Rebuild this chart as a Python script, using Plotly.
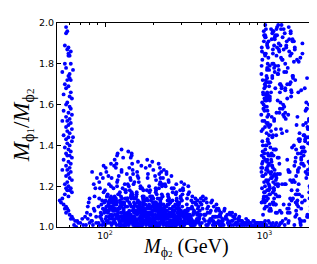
import math
import plotly.graph_objects as go

# ---- left narrow strip (M_phi2 ~ 55-75 GeV) ----
strip_x = [57,58,57,56,59,58,61,59,60,59,
           56,61,57,63,54,60,59,60,58,61,
           56,59,57,61,55,60,62,58,57,60,
           61,55,59,62,57,60,58,54,61,59,
           57,62,58,60,55,59,63,57,62,58,
           60,56,59,61,57,60,58,62,55,59,
           61,57,60,58,54,61,59,57,60,62,
           58,56,59,61,57,60,58,62,56,59,
           54,52,53,55,57,56,58,59,57,60,
           62,61,63,65,67,68,70,72,75,64,
           66,73]
strip_y = [1.98,1.96,1.95,1.89,1.88,1.87,1.86,1.85,1.84,1.84,
           1.80,1.80,1.78,1.77,1.76,1.75,1.74,1.73,1.72,1.72,
           1.70,1.69,1.68,1.66,1.65,1.64,1.63,1.61,1.60,1.59,
           1.58,1.57,1.56,1.55,1.54,1.53,1.52,1.52,1.51,1.50,
           1.49,1.48,1.47,1.46,1.45,1.44,1.44,1.43,1.42,1.41,
           1.40,1.39,1.38,1.37,1.36,1.35,1.35,1.34,1.33,1.32,
           1.31,1.30,1.29,1.28,1.28,1.27,1.26,1.25,1.24,1.23,
           1.22,1.21,1.20,1.19,1.19,1.18,1.18,1.17,1.16,1.15,
           1.14,1.13,1.12,1.11,1.10,1.09,1.09,1.08,1.07,1.06,
           1.05,1.04,1.04,1.03,1.03,1.02,1.02,1.04,1.05,1.01,
           1.00,1.01]

# ---- central blob, by mass band ----
blobA_x = [76,78,80,77,82,85,79,88,83,86, 81,84,87,78,89,80,83,86,88,85]
blobA_y = [1.01,1.04,1.02,1.07,1.03,1.09,1.12,1.05,1.27,1.15,
           1.06,1.01,1.19,1.10,1.24,1.14,1.03,1.08,1.02,1.21]

blobB_x = [91,93,96,99,102,105,108,92,95,98, 101,104,107,109,94,97,100,103,106,91,
           93,96,99,102,105,108,92,95,98,101, 104,107,110,94,97,100,103,106,109,96,
           99,102,92,105,108,95,98,101,104,107]
blobB_y = [1.02,1.05,1.01,1.08,1.03,1.11,1.06,1.14,1.04,1.17,
           1.09,1.02,1.13,1.20,1.07,1.24,1.01,1.15,1.05,1.10,
           1.19,1.03,1.12,1.27,1.08,1.02,1.22,1.06,1.30,1.04,
           1.16,1.10,1.01,1.26,1.09,1.18,1.03,1.21,1.31,1.13,
           1.07,1.05,1.01,1.25,1.14,1.11,1.02,1.29,1.07,1.04]

blobC_x = [112,118,125,131,137,114,121,128,134,139,
           116,123,129,135,111,119,126,132,138,115,
           122,127,133,113,120,124,130,136,117,110,
           128,134,121,114,139,126,118,131,123,137,
           112,129,135,120,116,125,133,138,119,127,
           131,114,122,136,111,128,124,117,134,130,
           126,113,139,120,132,115,137,123,129,118,
           135,121,127,112,138,124,116,133,130,119,
           136,122,128,114,131,125,117,139,134,111]
blobC_y = [1.02,1.05,1.01,1.08,1.03,1.11,1.04,1.14,1.06,1.02,
           1.09,1.01,1.12,1.17,1.05,1.22,1.03,1.07,1.10,1.15,
           1.04,1.28,1.01,1.19,1.06,1.13,1.34,1.02,1.08,1.24,
           1.11,1.05,1.16,1.03,1.21,1.07,1.31,1.01,1.09,1.26,
           1.14,1.04,1.18,1.36,1.02,1.10,1.06,1.13,1.20,1.38,
           1.03,1.08,1.25,1.01,1.12,1.05,1.17,1.29,1.04,1.09,
           1.15,1.02,1.07,1.23,1.11,1.33,1.06,1.03,1.19,1.01,
           1.10,1.05,1.27,1.08,1.14,1.02,1.04,1.21,1.12,1.35,
           1.06,1.16,1.03,1.30,1.09,1.01,1.13,1.07,1.18,1.04]

blobD_x = [141,146,152,158,164,170,176,143,149,155,
           161,167,173,179,144,150,156,162,168,174,
           142,148,154,160,166,172,178,145,151,157,
           163,169,175,147,153,159,165,171,177,140,
           150,163,144,171,157,178,148,166,153,175,
           142,160,169,146,155,173,151,164,141,179,
           158,147,167,154,176,145,162,170,149,156,
           174,143,159,168,152,177,161,148,165,172,
           155,141,178,163,150,170,146,157,175,144,
           166,153,160,171,147,177,142,164,158,169,
           151,173,145,162,176,149,156,167,143,174]
blobD_y = [1.01,1.04,1.07,1.02,1.10,1.05,1.13,1.03,1.16,1.08,
           1.01,1.20,1.06,1.11,1.24,1.02,1.14,1.04,1.09,1.18,
           1.29,1.03,1.07,1.12,1.01,1.15,1.05,1.34,1.10,1.02,
           1.22,1.06,1.08,1.17,1.03,1.27,1.11,1.04,1.13,1.37,
           1.01,1.09,1.05,1.19,1.02,1.07,1.31,1.12,1.04,1.15,
           1.06,1.25,1.03,1.10,1.01,1.14,1.21,1.08,1.02,1.05,
           1.16,1.36,1.03,1.11,1.07,1.23,1.01,1.09,1.28,1.04,
           1.12,1.18,1.06,1.02,1.14,1.08,1.32,1.05,1.10,1.01,
           1.03,1.20,1.13,1.07,1.26,1.04,1.16,1.02,1.09,1.11,
           1.05,1.22,1.01,1.06,1.35,1.03,1.12,1.08,1.17,1.30,
           1.04,1.10,1.02,1.24,1.07,1.15,1.01,1.19,1.06,1.13]

blobE_x = [181,187,193,199,205,211,217,223,229,184,
           190,196,202,208,214,220,226,182,188,194,
           200,206,212,218,224,185,191,197,203,209,
           215,221,227,183,189,195,201,207,213,219,
           225,186,192,198,204,210,216,222,228,180,
           195,210,185,220,200,215,190,225,205,183,
           198,212,188,222,203,217,193,227,208,181,
           196,214,186,224,201,218,191,229,206,184,
           199,211,189,221,204,216,194,226,209,182,
           197,213,187,223,202,219,192,228,207,185,
           194,209,221,183,201,226,190,214,198,205]
blobE_y = [1.02,1.05,1.01,1.08,1.03,1.11,1.04,1.14,1.06,1.02,
           1.09,1.01,1.12,1.17,1.05,1.21,1.03,1.07,1.10,1.15,
           1.04,1.25,1.01,1.19,1.06,1.13,1.30,1.02,1.08,1.23,
           1.11,1.05,1.16,1.03,1.20,1.07,1.28,1.01,1.09,1.26,
           1.14,1.04,1.18,1.32,1.02,1.10,1.06,1.13,1.20,1.29,
           1.03,1.08,1.24,1.01,1.12,1.05,1.17,1.27,1.04,1.09,
           1.15,1.02,1.07,1.22,1.11,1.31,1.06,1.03,1.19,1.01,
           1.10,1.05,1.26,1.08,1.14,1.02,1.04,1.21,1.12,1.33,
           1.06,1.16,1.03,1.29,1.09,1.01,1.13,1.07,1.18,1.04,
           1.02,1.11,1.05,1.24,1.01,1.08,1.15,1.03,1.06,1.10,
           1.07,1.12,1.02,1.18,1.04,1.09,1.01,1.14,1.06,1.03]

blobF_x = [232,239,246,253,260,267,274,281,288,295,
           235,242,249,256,263,270,277,284,291,298,
           231,238,245,252,259,266,273,280,287,294,
           236,243,250,257,264,271,278,285,292,299,
           233,240,247,254,261,268,275,282,289,296,
           237,244,251,258,265,272,279,286,293,234,
           241,248,255,262,269,276,283,290,297,230,
           245,259,272,286,238,252,266,280,294,243,
           257,270,284,298,236,250,263,277,291,248]
blobF_y = [1.01,1.04,1.02,1.07,1.03,1.10,1.05,1.13,1.02,1.08,
           1.06,1.01,1.15,1.03,1.09,1.19,1.04,1.11,1.06,1.01,
           1.24,1.02,1.08,1.13,1.05,1.17,1.03,1.21,1.10,1.04,
           1.07,1.27,1.01,1.12,1.06,1.04,1.16,1.02,1.09,1.14,
           1.03,1.20,1.11,1.05,1.25,1.08,1.02,1.14,1.07,1.18,
           1.10,1.04,1.22,1.01,1.13,1.06,1.09,1.03,1.12,1.28,
           1.05,1.16,1.02,1.19,1.07,1.11,1.04,1.08,1.01,1.15,
           1.02,1.06,1.10,1.03,1.21,1.14,1.08,1.17,1.05,1.26,
           1.12,1.03,1.07,1.15,1.09,1.23,1.01,1.04,1.11,1.06]

blobG_x = [303,312,321,330,339,348,357,366,375,384,
           393,306,315,324,333,342,351,360,369,378,
           387,396,301,310,319,328,337,346,355,364,
           373,382,391,399,308,317,326,335,344,353,
           362,371,380,389,398,305,314,323,332,341,
           350,359,368,377,386,395,309,318,327,336,
           345,354,363,372,381,390,304,331,358,385]
blobG_y = [1.01,1.05,1.02,1.09,1.03,1.13,1.06,1.01,1.11,1.04,
           1.08,1.16,1.02,1.07,1.20,1.04,1.10,1.02,1.14,1.06,
           1.03,1.12,1.22,1.01,1.08,1.05,1.17,1.03,1.12,1.07,
           1.02,1.09,1.05,1.14,1.19,1.04,1.11,1.06,1.01,1.15,
           1.08,1.03,1.13,1.02,1.06,1.10,1.21,1.04,1.16,1.09,
           1.02,1.07,1.12,1.04,1.10,1.01,1.18,1.06,1.14,1.03,
           1.05,1.09,1.02,1.11,1.07,1.04,1.13,1.08,1.01,1.06]

blobH_x = [405,418,431,444,457,470,483,496,509,522,
           535,548,411,424,437,450,463,476,489,502,
           515,528,541,403,416,429,442,455,468,481,
           494,507,520,533,546,409,422,435,448,461,
           474,487,500,513,526,539,415,440,465,490,
           515,540,427,478,530]
blobH_y = [1.02,1.06,1.01,1.10,1.04,1.13,1.02,1.08,1.05,1.01,
           1.07,1.03,1.15,1.03,1.09,1.02,1.12,1.05,1.01,1.09,
           1.03,1.06,1.02,1.11,1.04,1.14,1.01,1.07,1.03,1.10,
           1.05,1.02,1.08,1.01,1.04,1.09,1.06,1.12,1.03,1.08,
           1.01,1.05,1.11,1.02,1.06,1.03,1.13,1.07,1.04,1.02,
           1.09,1.01,1.06,1.03,1.05]

blobI_x = [555,572,589,606,623,640,657,674,691,708,
           725,742,563,580,597,614,631,648,665,682,
           699,716,733,750,559,593,627,661,695,729,
           568,602,636,670,704,738,584,618,652,686]
blobI_y = [1.01,1.05,1.02,1.07,1.03,1.01,1.06,1.02,1.04,1.01,
           1.03,1.02,1.09,1.04,1.01,1.06,1.03,1.05,1.02,1.04,
           1.01,1.03,1.02,1.01,1.08,1.03,1.07,1.02,1.05,1.01,
           1.04,1.02,1.05,1.01,1.03,1.02,1.06,1.01,1.04,1.03]

blobJ_x = [760,775,790,805,820,835,850,865,880,895,
           910,925,940,955,970,985,768,798,828,858,
           888,918,948,978,783,813,843,873,903,933]
blobJ_y = [1.02,1.01,1.03,1.01,1.02,1.00,1.03,1.01,1.02,1.01,
           1.00,1.02,1.01,1.00,1.01,1.02,1.04,1.02,1.01,1.03,
           1.00,1.01,1.02,1.01,1.03,1.02,1.00,1.01,1.02,1.00]

# dense lower core of the blob
core_x = [104,127,153,181,212,246,288,335,119,142,
          168,197,229,266,311,108,133,160,189,221,
          257,299,350,115,138,164,193,225,262,305,
          112,147,176,205,238,276,322,123,151,186,
          216,251,293,342,101,130,157,184,218,254,
          296,345,117,141,170,201,234,272,317,110,
          136,162,191,223,259,301,128,155,179,209,
          243,282,328,106,134,166,195,227,264,308,
          121,149,173,203,236,274,320,113,139,159,
          187,214,249,290,337,125,145,171,199,231,
          268,314,102,131,156,183,211,244,285,332,
          118,143,167,194,226,261,303,109,137,163,
          190,222,256,298,348,124,150,177,207,240,
          279,325,114,140,165,196,228,265,309,107,
          132,158,185,217,252,294,343,120,146,172,
          200,233,270,316,111,135,161,188,220,255,
          297,346,126,152,180,210,242,281,327,103,
          129,154,182,213,247,289,336,116,144,169,
          198,230,267,312,105,134,159,187,219,253,
          295,340,122,148,175,206,239,277,323,112,
          138,163,192,224,260,302,355,117,141,168,
          202,235,273,318,108,131,157,184,215,250,
          291,338,126,150,178,208,241,280,326,101,
          128,155,181,212,246,287,334,119,145,171,
          199,232,269,313,110,136,162,190,222,258,
          300,352,124,149,174,204,237,275,321,114,
          139,166,193,226,263,306,107,133,160,186,
          218,254,296,344,121,147,172,201,234,271,
          315,109,135,161,189,221,257,299,349,127,
          153,179,208,242,283,330,115,142,167,196]
core_y = [1.03,1.07,1.01,1.05,1.10,1.02,1.06,1.04,1.12,1.08,
          1.04,1.01,1.09,1.03,1.07,1.13,1.05,1.02,1.11,1.06,
          1.01,1.08,1.03,1.06,1.14,1.04,1.09,1.02,1.07,1.01,
          1.10,1.05,1.02,1.12,1.08,1.03,1.06,1.01,1.09,1.04,
          1.07,1.11,1.02,1.05,1.08,1.03,1.15,1.06,1.01,1.09,
          1.04,1.02,1.13,1.07,1.03,1.10,1.05,1.01,1.08,1.06,
          1.02,1.09,1.04,1.12,1.06,1.03,1.11,1.01,1.07,1.05,
          1.10,1.02,1.04,1.08,1.14,1.03,1.06,1.09,1.01,1.05,
          1.07,1.03,1.11,1.01,1.06,1.08,1.02,1.13,1.04,1.10,
          1.05,1.09,1.02,1.07,1.03,1.12,1.06,1.01,1.08,1.04,
          1.02,1.05,1.10,1.07,1.03,1.14,1.01,1.06,1.09,1.02,
          1.11,1.04,1.08,1.02,1.05,1.01,1.07,1.15,1.03,1.12,
          1.06,1.09,1.03,1.01,1.04,1.10,1.05,1.08,1.02,1.07,
          1.03,1.06,1.13,1.04,1.11,1.01,1.08,1.05,1.02,1.09,
          1.12,1.03,1.06,1.10,1.01,1.07,1.04,1.08,1.14,1.02,
          1.05,1.11,1.03,1.06,1.09,1.02,1.13,1.04,1.07,1.01,
          1.08,1.03,1.05,1.12,1.02,1.10,1.06,1.01,1.04,1.15,
          1.07,1.02,1.09,1.04,1.13,1.05,1.03,1.11,1.06,1.01,
          1.04,1.08,1.02,1.06,1.12,1.03,1.10,1.07,1.01,1.05,
          1.02,1.06,1.09,1.03,1.07,1.11,1.04,1.01,1.08,1.13,
          1.05,1.01,1.04,1.10,1.02,1.06,1.03,1.14,1.07,1.09,
          1.03,1.08,1.01,1.05,1.12,1.04,1.07,1.02,1.10,1.06,
          1.09,1.04,1.11,1.02,1.06,1.01,1.08,1.03,1.05,1.13,
          1.01,1.07,1.03,1.09,1.04,1.12,1.02,1.06,1.15,1.05,
          1.08,1.02,1.06,1.03,1.10,1.04,1.07,1.01,1.11,1.03,
          1.02,1.01,1.05,1.08,1.03,1.09,1.06,1.02,1.04,1.12,
          1.06,1.10,1.02,1.04,1.07,1.01,1.13,1.05,1.08,1.03,
          1.04,1.07,1.01,1.02,1.09,1.05,1.03,1.11,1.06,1.02,
          1.01,1.12,1.04,1.07,1.03,1.06,1.02,1.08,1.01,1.10,
          1.05,1.03,1.08,1.01,1.05,1.02,1.09,1.04,1.07,1.14]

# ---- right region (M_phi2 ~ 1-2 TeV) ----
right_x = [1010,1380,1720,1150,1960,1260,1560,1050,1830,1440,
           1190,1650,2010,1090,1320,1890,1480,1000,1610,1230,
           1780,1120,1410,1990,1290,1530,1070,1700,1350,1920,
           1170,1460,1810,1030,1590,1250,2040,1390,1130,1670,
           1940,1310,1020,1500,1750,1210,1640,1080,1860,1420,
           1270,1570,1990,1140,1370,1710,1060,1490,1900,1220,
           1620,1040,1340,1800,1180,1950,1450,1110,1690,1280,
           1850,1200,1540,1000,1400,1760,1300,2020,1100,1580,
           1360,1930,1160,1470,1070,1730,1240,1600,1980,1330,
           1050,1630,1280,1870,1150,1510,1020,1790,1430,1210,
           1700,1120,1960,1390,1260,1550,1010,1840,1180,1660,
           1320,1480,2050,1090,1740,1230,1580,1950,1140,1410,
           1880,1060,1350,1620,1190,1510,2000,1290,1780,1040,
           1450,1820,1130,1680,1270,1990,1080,1560,1370,1910,
           1170,1590,1030,1730,1420,1250,1860,1110,1640,1330,
           1960,1210,1500,1080,1800,1370,1150,1700,1280,2030,
           1020,1460,1900,1240,1600,1120,1760,1390,1050,1530,
           1650,1180,1430,2010,1300,1870,1070,1490,1220,1770,
           1360,1970,1140,1570,1040,1690,1260,1830,1100,1440,
           1230,1510,1780,1060,1920,1350,1610,1170,1990,1400,
           1090,1710,1290,1540,1010,1850,1200,1640,1470,1940,
           1580,1130,1810,1330,1700,1050,1480,2040,1250,1160,
           1880,1270,1020,1620,1380,1950,1110,1560,1790,1310,
           1190,1450,1730,1080,1990,1240,1520,1040,1850,1660,
           1410,1900,1160,1600,1300,1760,1070,1430,2020,1210,
           1030,1550,1340,1820,1120,1680,1460,1930,1250,1590,
           1750,1060,1390,1970,1180,1500,1280,1870,1010,1630,
           1320,1840,1100,1530,1720,1220,2000,1440,1150,1570,
           1960,1260,1610,1040,1790,1360,1130,1680,1480,1900,
           1140,1700,1420,1200,1550,1890,1080,1350,1660,1990]
right_y = [1.93,1.47,1.12,1.78,1.35,1.61,1.05,1.88,1.24,1.70,
           1.56,1.29,1.83,1.09,1.97,1.41,1.66,1.52,1.18,1.87,
           1.37,1.74,1.02,1.59,1.21,1.91,1.45,1.31,1.80,1.14,
           1.68,1.96,1.27,1.62,1.50,1.08,1.75,1.33,1.85,1.43,
           1.19,1.55,1.72,1.91,1.39,1.26,1.81,1.64,1.06,1.98,
           1.48,1.16,1.60,1.35,1.89,1.03,1.71,1.22,1.53,1.79,
           1.27,1.63,1.95,1.42,1.11,1.58,1.84,1.36,1.01,1.69,
           1.73,1.88,1.30,1.57,1.07,1.45,1.93,1.20,1.66,1.38,
           1.04,1.32,1.76,1.67,1.49,1.90,1.15,1.82,1.44,1.59,
           1.65,1.10,1.99,1.28,1.53,1.73,1.40,1.13,1.86,1.62,
           1.33,1.80,1.47,1.09,1.70,1.22,1.94,1.58,1.38,1.04,
           1.87,1.18,1.62,1.50,1.31,1.77,1.25,1.08,1.96,1.55,
           1.41,1.91,1.68,1.36,1.84,1.14,1.57,1.46,1.03,1.73,
           1.23,1.51,1.87,1.02,1.97,1.44,1.62,1.32,1.76,1.17,
           1.79,1.06,1.40,1.85,1.27,1.66,1.49,1.92,1.21,1.54,
           1.60,1.34,1.74,1.19,1.43,1.88,1.52,1.09,1.68,1.37,
           1.85,1.71,1.26,1.56,1.11,1.95,1.35,1.63,1.42,1.81,
           1.16,1.48,1.92,1.69,1.58,1.05,1.77,1.39,1.99,1.30,
           1.53,1.24,1.80,1.12,1.66,1.36,1.89,1.61,1.47,1.07,
           1.90,1.74,1.45,1.55,1.20,1.67,1.13,1.94,1.33,1.78,
           1.71,1.39,1.82,1.01,1.59,1.26,1.98,1.43,1.64,1.29,
           1.08,1.96,1.57,1.76,1.34,1.51,1.85,1.18,1.70,1.92,
           1.44,1.83,1.65,1.28,1.91,1.10,1.54,1.72,1.37,1.60,
           1.97,1.14,1.37,1.63,1.49,1.86,1.23,1.78,1.05,1.46,
           1.28,1.60,1.93,1.16,1.82,1.39,1.69,1.11,1.55,1.75,
           1.64,1.88,1.21,1.44,1.73,1.03,1.95,1.31,1.58,1.12,
           1.50,1.35,1.70,1.81,1.25,1.92,1.07,1.48,1.84,1.66,
           1.11,1.58,1.97,1.40,1.15,1.75,1.62,1.27,1.89,1.34,
           1.76,1.02,1.54,1.90,1.68,1.21,1.45,1.83,1.13,1.52,
           1.38,1.67,1.09,1.94,1.87,1.32,1.79,1.56,1.42,1.26]

band_x = [960,985,1010,1040,1070,1100,1130,1170,1210,975,
          995,1020,1055,1085,1120,1160,1200,965,990,1030,
          1060,1090,1140,1180,1240,980,1005,1045,1075,1110,
          1150,1190,970,1000,1035,1065,1095,1125,1165,1220,
          955,992,1025,1050,1080,1115,1145,1185,968,1015,
          1042,1072,1105,1135,1175,1230,978,1008,1038,1068,
          1098,1128,1158,962,988,1018,1048,1078,1108,1138,
          1195,972,998,1028,1058,1088,1118,1148,958,984,
          1012,1044,1074,1102,1132,1170,1215,966,994,1024,
          1052,1082,1112,1142,1178,1250,976,1004,1034,1064]
band_y = [1.12,1.25,1.33,1.18,1.41,1.08,1.29,1.21,1.15,1.37,
          1.22,1.10,1.30,1.16,1.44,1.26,1.07,1.19,1.34,1.13,
          1.27,1.39,1.11,1.23,1.31,1.06,1.17,1.28,1.20,1.35,
          1.14,1.24,1.42,1.09,1.32,1.18,1.26,1.12,1.38,1.21,
          1.29,1.15,1.23,1.36,1.11,1.30,1.19,1.45,1.25,1.13,
          1.33,1.08,1.27,1.22,1.16,1.34,1.40,1.20,1.10,1.31,
          1.24,1.17,1.28,1.35,1.14,1.26,1.43,1.19,1.32,1.12,
          1.21,1.29,1.36,1.15,1.23,1.09,1.30,1.18,1.27,1.13,
          1.38,1.22,1.16,1.33,1.25,1.11,1.20,1.31,1.17,1.28,
          1.14,1.35,1.24,1.19,1.07,1.26,1.32,1.12,1.29,1.21]

col_x = [958,972,985,1000,1015,1030,1048,965,992,1022,
         955,980,1008,1038,1058,968,995,1025,1052,962,
         988,1012,1042,975,1002,1032,960,983,1018,1045,
         970,998,1028,957,990,1010,1040,978,1005,1035]
col_y = [1.47,1.52,1.58,1.63,1.69,1.74,1.80,1.86,1.91,1.97,
         1.55,1.66,1.49,1.77,1.83,1.61,1.94,1.71,1.50,1.88,
         1.60,1.99,1.54,1.72,1.85,1.46,1.79,1.65,1.93,1.57,
         1.82,1.68,1.51,1.75,1.96,1.62,1.89,1.48,1.70,1.59]

floor_x = [880,920,955,985,1010,1040,1075,1110,1150,1190,
           1240,1300,900,940,970,1000,1025,1060,1095,1130,
           1170,1220,1280,1340,1420]
floor_y = [1.01,1.00,1.02,1.01,1.03,1.00,1.02,1.01,1.00,1.02,
           1.01,1.03,1.02,1.01,1.00,1.02,1.01,1.03,1.00,1.02,
           1.01,1.00,1.02,1.01,1.03]

groups = [(strip_x, strip_y), (blobA_x, blobA_y), (blobB_x, blobB_y),
          (blobC_x, blobC_y), (blobD_x, blobD_y), (blobE_x, blobE_y),
          (blobF_x, blobF_y), (blobG_x, blobG_y), (blobH_x, blobH_y),
          (blobI_x, blobI_y), (blobJ_x, blobJ_y), (core_x, core_y),
          (right_x, right_y), (band_x, band_y), (col_x, col_y),
          (floor_x, floor_y)]
xs, ys = [], []
for gx, gy in groups:
    n = min(len(gx), len(gy))
    xs += gx[:n]
    ys += gy[:n]

x_ticks = [100, 1000]
x_tick_text = ["10<sup>2</sup>", "10<sup>3</sup>"]
x_minor = [60, 70, 80, 90, 200, 300, 400, 500, 600, 700, 800, 900, 2000]

fig = go.Figure(go.Scatter(
    x=xs, y=ys, mode="markers",
    marker=dict(color="#0000ff", size=3.9, line=dict(width=0)),
    showlegend=False, hoverinfo="skip"))

fig.update_layout(
    width=317, height=264,
    margin=dict(l=49, r=9, t=13, b=45),
    plot_bgcolor="white", paper_bgcolor="white",
    font=dict(family="DejaVu Sans", color="black"),
)
fig.update_xaxes(
    type="log", range=[math.log10(50), math.log10(2075)],
    tickvals=x_ticks, ticktext=x_tick_text,
    ticks="inside", ticklen=4, tickwidth=1, tickcolor="black",
    showline=True, linecolor="black", linewidth=1, mirror="allticks",
    showgrid=False, zeroline=False,
    tickfont=dict(family="DejaVu Sans", size=9, color="black"),
    minor=dict(tickvals=x_minor, ticks="inside", ticklen=2, tickwidth=1,
               tickcolor="black", showgrid=False),
)
fig.update_yaxes(
    range=[1.0, 2.0], tick0=1.0, dtick=0.2, tickformat=".1f",
    ticks="inside", ticklen=4, tickwidth=1, tickcolor="black",
    showline=True, linecolor="black", linewidth=1, mirror="allticks",
    showgrid=False, zeroline=False,
    tickfont=dict(family="DejaVu Sans", size=9.5, color="black"),
)

fig.add_annotation(
    text=("<i>M</i><sub><span style='font-size:14px'>ϕ</span>"
          "<span style='font-size:9px'>2</span></sub> (GeV)"),
    xref="paper", yref="paper",
    x=0.5, y=-0.102, xanchor="center", yanchor="middle", showarrow=False,
    font=dict(family="Liberation Serif", size=20, color="black"))
fig.add_annotation(
    text=("<i>M</i><sub><span style='font-size:16px'>ϕ</span>"
          "<span style='font-size:11px'>1</span></sub>"
          "/<i>M</i><sub><span style='font-size:16px'>ϕ</span>"
          "<span style='font-size:11px'>2</span></sub>"),
    xref="paper", yref="paper",
    x=-0.131, y=0.50, xanchor="center", yanchor="middle", textangle=-90,
    showarrow=False,
    font=dict(family="Liberation Serif", size=23, color="black"))

fig.write_html("out.html")
